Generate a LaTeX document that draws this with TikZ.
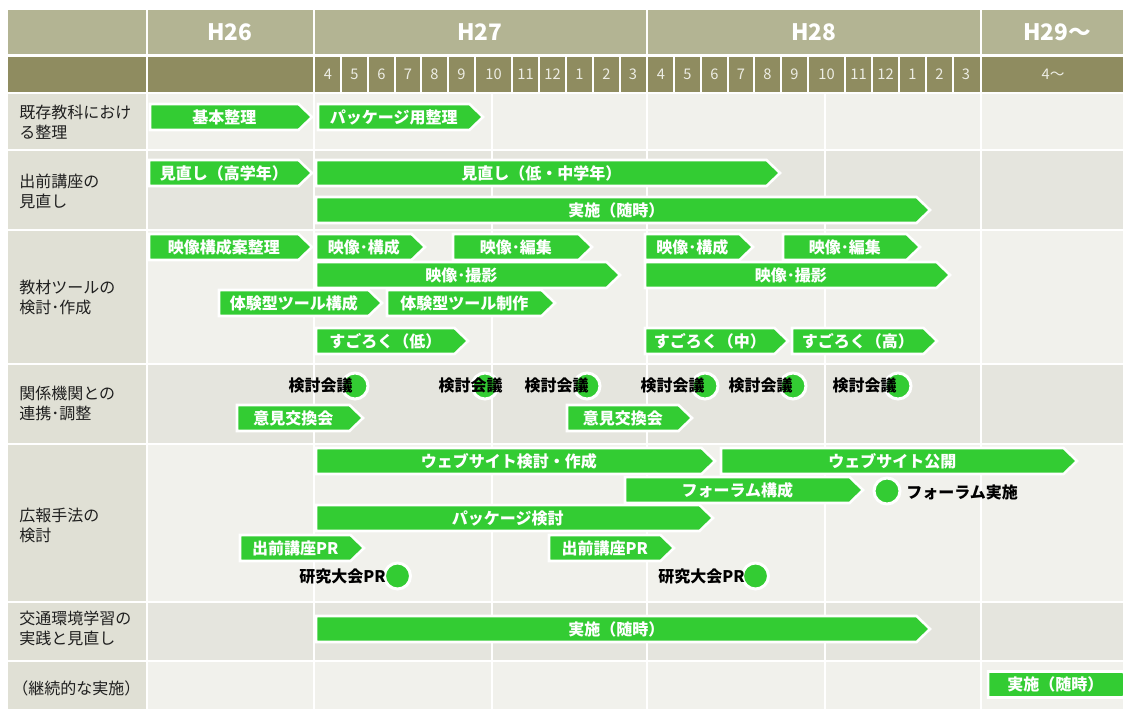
\documentclass[tikz,border=0pt]{standalone}
\usepackage{fontspec}
\setmainfont{Noto Sans CJK JP}
\definecolor{hkA}{HTML}{B3B493}
\definecolor{hkB}{HTML}{8F8C60}
\definecolor{labc}{HTML}{E0E0D5}
\definecolor{bodyL}{HTML}{F1F1EC}
\definecolor{bodyD}{HTML}{E5E5DE}
\definecolor{barg}{HTML}{33CC33}
\definecolor{mtext}{HTML}{EDEDE4}
\tikzset{
  gbarfill/.style={fill=barg, draw=white, line width=1.9pt, line join=miter},
  bartext/.style={text=white, font=\bfseries\fontsize{12}{14}\selectfont, inner sep=0pt},
  ctext/.style={text=black, font=\bfseries\fontsize{12}{14}\selectfont, inner sep=0pt},
  gdot/.style={circle, fill=barg, draw=white, line width=2.25pt, minimum size=19.5pt, inner sep=0pt},
  lab/.style={anchor=west, align=left, font=\fontsize{12}{15}\selectfont, inner sep=0pt, text=black!88},
  hdr/.style={text=white, font=\bfseries\fontsize{17}{20}\selectfont, inner sep=0pt},
  mon/.style={text=mtext, font=\fontsize{11}{13}\selectfont, inner sep=0pt},
  wline/.style={draw=white, line width=1.5pt},
}
\newcommand\gbar[5]{%
  \filldraw[gbarfill] (#2,#4-13) -- ({#3-13.5},#4-13) -- (#3,#4) -- ({#3-13.5},#4+13) -- (#2,#4+13) -- cycle;
  \node[bartext] (#1) at ({(#2+#3-13.5)/2},#4) {#5};
}
\begin{document}
\begin{tikzpicture}[x=0.75pt, y=-0.75pt]
\useasboundingbox (0,0) rectangle (1123,709);
\clip (0,0) rectangle (1123,709);
\fill[white] (0,0) rectangle (1123,709);
% header row 1
\fill[hkA] (8,10) rectangle (146,54);
\fill[hkA] (148,10) rectangle (313,54);
\fill[hkA] (315,10) rectangle (646,54);
\fill[hkA] (648,10) rectangle (980,54);
\fill[hkA] (982,10) rectangle (1123,54);
\node[hdr] (h26) at (230,32) {H26};
\node[hdr] (h27) at (480,32) {H27};
\node[hdr] (h28) at (814,32) {H28};
\node[hdr] (h29) at (1057,32) {H29〜};
% header row 2
\fill[hkB] (8,57) rectangle (146,92);
\fill[hkB] (148,57) rectangle (313,92);
\fill[hkB] (315,57) rectangle (646,92);
\fill[hkB] (648,57) rectangle (980,92);
\fill[hkB] (982,57) rectangle (1123,92);
\foreach \e in {341,368,395,421,448,475,512,539,566,593,620} {
  \draw[wline] (\e,57) -- (\e,92);
  \draw[wline] (\e+333,57) -- (\e+333,92);
}
\foreach \c/\m [count=\i] in {328/4,354.5/5,381.5/6,408/7,434.5/8,461.5/9,493.5/10,525.5/11,552.5/12,579.5/1,606.5/2,633/3} {
  \node[mon] (ma\i) at (\c,74) {\m};
  \node[mon] (mb\i) at (\c+333,74) {\m};
}
\node[mon] (m29) at (1053,74) {4〜};
% body rows
\foreach \ya/\yb/\col in {94/149/bodyL,151/229/bodyD,231/363/bodyL,365/443/bodyD,445/601/bodyL,603/660/bodyD,662/712/bodyL} {
  \fill[labc] (8,\ya) rectangle (146,\yb);
  \fill[\col] (148,\ya) rectangle (1123,\yb);
}
\foreach \x in {314,492,647,825,981} {
  \draw[white, line width=1.6pt] (\x,94) -- (\x,712);
}
% row labels
\node[lab] (r1) at (19,122.5) {既存教科におけ\\る整理};
\node[lab] (r2) at (19,191) {出前講座の\\見直し};
\node[lab] (r3) at (19,297) {教材ツールの\\検討･作成};
\node[lab] (r4) at (19,403) {関係機関との\\連携･調整};
\node[lab] (r5) at (19,525.5) {広報手法の\\検討};
\node[lab] (r6) at (19,628) {交通環境学習の\\実践と見直し};
\node[lab] (r7) at (12,688) {（継続的な実施）};
% row 1
\gbar{a1}{150}{312}{117}{基本整理}
\gbar{a2}{318}{483}{117}{パッケージ用整理}
% row 2
\gbar{b1}{149}{312}{173}{見直し（高学年）}
\gbar{b2}{316}{780}{173}{見直し（低・中学年）}
\gbar{b3}{316}{930}{210}{実施（随時）}
% row 3
\gbar{c1}{149}{312}{247}{映像構成案整理}
\gbar{c2}{316}{425}{247}{映像･構成}
\gbar{c3}{453}{592}{247}{映像･編集}
\gbar{c4}{316}{620}{275}{映像･撮影}
\gbar{c5}{219}{382}{303}{体験型ツール構成}
\gbar{c6}{387}{555}{303}{体験型ツール制作}
\gbar{c7}{316}{468}{341}{すごろく（低）}
\gbar{c8}{645}{753}{247}{映像･構成}
\gbar{c9}{783}{920}{247}{映像･編集}
\gbar{c10}{645}{950}{275}{映像･撮影}
\gbar{c11}{645}{788}{341}{すごろく（中）}
\gbar{c12}{792}{937}{341}{すごろく（高）}
% row 4
\gbar{d1}{237}{363}{418}{意見交換会}
\gbar{d2}{567}{692}{418}{意見交換会}
\node[gdot] (k1) at (355,386) {};
\node[gdot] (k2) at (485,386) {};
\node[gdot] (k3) at (587,386) {};
\node[gdot] (k4) at (705,386) {};
\node[gdot] (k5) at (793,386) {};
\node[gdot] (k6) at (898,386) {};
\node[ctext, anchor=east] (kt1) at (353,385) {検討会議};
\node[ctext, anchor=east] (kt2) at (503,385) {検討会議};
\node[ctext, anchor=east] (kt3) at (589,385) {検討会議};
\node[ctext, anchor=east] (kt4) at (705,385) {検討会議};
\node[ctext, anchor=east] (kt5) at (793,385) {検討会議};
\node[ctext, anchor=east] (kt6) at (897,385) {検討会議};
% row 5
\gbar{e1}{316}{715}{461}{ウェブサイト検討・作成}
\gbar{e2}{721}{1077}{461}{ウェブサイト公開}
\gbar{e3}{625}{863}{490}{フォーラム構成}
\gbar{e4}{316}{713}{518}{パッケージ検討}
\gbar{e5}{240}{364}{548}{出前講座PR}
\gbar{e6}{549}{674}{548}{出前講座PR}
\node[gdot] (f1) at (887,491) {};
\node[ctext, anchor=west] (ft1) at (906,492) {フォーラム実施};
\node[gdot] (p1) at (397.5,576) {};
\node[gdot] (p2) at (755.5,576) {};
\node[ctext, anchor=east] (pt1) at (386,576) {研究大会PR};
\node[ctext, anchor=east] (pt2) at (745,576) {研究大会PR};
% row 6
\gbar{g1}{316}{930}{629}{実施（随時）}
% row 7
\gbar{g2}{988}{1136}{684.5}{実施（随時）}
\end{tikzpicture}
\end{document}
